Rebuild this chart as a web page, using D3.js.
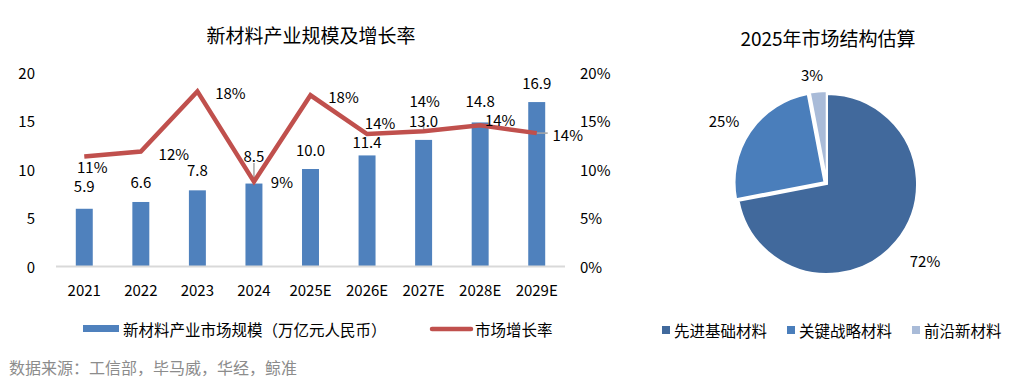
<!DOCTYPE html>
<html>
<head>
<meta charset="utf-8">
<script src="https://cdn.jsdelivr.net/npm/d3@7"></script>
<style>
  body { margin: 0; background: #fff; }
  svg text { font-family: "Noto Sans CJK SC", "Noto Sans", sans-serif; }
</style>
</head>
<body>
<svg id="chart" width="1030" height="388"></svg>
<script>
// data
const years = ["2021", "2022", "2023", "2024", "2025E", "2026E", "2027E", "2028E", "2029E"];
const marketSize = [5.9, 6.6, 7.8, 8.5, 10.0, 11.4, 13.0, 14.8, 16.9];
const growthRate = [0.113, 0.118, 0.180, 0.087, 0.176, 0.136, 0.139, 0.145, 0.137];
const leftTicks = [0, 5, 10, 15, 20];
const rightTicks = [0, 0.05, 0.10, 0.15, 0.20];

const segments = ["先进基础材料", "关键战略材料", "前沿新材料"];
const segmentShare = [0.72, 0.25, 0.03];

// label placement (layout only), [dx, dy] from each point
const rateLabelOffset = [[8, 10], [33, 2], [33, 1], [28, 0], [33, 1], [13, -12], [1, -31], [20, -6], [31, 1]];
const sizeLabelOffset = [-23, -20, -21, -28, -20, -14, -19, -22, -20];

const svg = d3.select("#chart");

// ---------- left chart: bars + line ----------
const x = d3.scaleBand().domain(years).range([56, 565]);
const yL = d3.scaleLinear().domain([0, 20]).range([266, 72]);
const yR = d3.scaleLinear().domain([0, 0.2]).range([266, 72]);
const barW = x.bandwidth() * 0.3;
const cx = d => x(d) + x.bandwidth() / 2;

svg.append("text")
  .attr("x", 311).attr("y", 34)
  .attr("text-anchor", "middle").attr("dominant-baseline", "central")
  .attr("font-size", "19px").attr("fill", "#000")
  .text("新材料产业规模及增长率");

// left axis labels
svg.selectAll(".lt").data(leftTicks).enter().append("text")
  .attr("x", 35).attr("y", d => yL(d))
  .attr("text-anchor", "end").attr("dominant-baseline", "central")
  .attr("font-size", "15px").attr("fill", "#000")
  .text(d => d);

// right axis labels
svg.selectAll(".rt").data(rightTicks).enter().append("text")
  .attr("x", 580).attr("y", d => yR(d))
  .attr("dominant-baseline", "central")
  .attr("font-size", "15px").attr("fill", "#000")
  .text(d3.format(".0%"));

// bars
svg.selectAll(".bar").data(years).enter().append("rect")
  .attr("x", d => cx(d) - barW / 2)
  .attr("y", (d, i) => yL(marketSize[i]))
  .attr("width", barW)
  .attr("height", (d, i) => yL(0) - yL(marketSize[i]))
  .attr("fill", "#4f81bd");

// baseline
svg.append("line")
  .attr("x1", 56).attr("x2", 565)
  .attr("y1", yL(0) + 0.5).attr("y2", yL(0) + 0.5)
  .attr("stroke", "#d9d9d9").attr("stroke-width", 2);

// x labels
svg.selectAll(".xl").data(years).enter().append("text")
  .attr("x", d => cx(d)).attr("y", 289)
  .attr("text-anchor", "middle").attr("dominant-baseline", "central")
  .attr("font-size", "15px").attr("fill", "#000")
  .text(d => d);

// leader lines (grey) for a few labels
svg.append("line")
  .attr("x1", cx("2024")).attr("x2", cx("2024"))
  .attr("y1", 163).attr("y2", yL(8.5))
  .attr("stroke", "#a6a6a6").attr("stroke-width", 1.5);
svg.append("line")
  .attr("x1", cx("2027E")).attr("x2", cx("2027E"))
  .attr("y1", 117).attr("y2", yR(growthRate[6]))
  .attr("stroke", "#a6a6a6").attr("stroke-width", 1.5);
svg.append("line")
  .attr("x1", cx("2029E")).attr("x2", cx("2029E") + 11)
  .attr("y1", yR(growthRate[8])).attr("y2", yR(growthRate[8]))
  .attr("stroke", "#a6a6a6").attr("stroke-width", 1.5);

// bar value labels
svg.selectAll(".bv").data(years).enter().append("text")
  .attr("x", d => cx(d))
  .attr("y", (d, i) => yL(marketSize[i]) + sizeLabelOffset[i])
  .attr("text-anchor", "middle").attr("dominant-baseline", "central")
  .attr("font-size", "15px").attr("fill", "#000")
  .text((d, i) => d3.format(".1f")(marketSize[i]));

// growth line
const line = d3.line()
  .x((d, i) => cx(years[i]))
  .y(d => yR(d));
svg.append("path")
  .datum(growthRate)
  .attr("d", line)
  .attr("fill", "none")
  .attr("stroke", "#c0504d")
  .attr("stroke-width", 4.5)
  .attr("stroke-linejoin", "miter");

// growth labels
svg.selectAll(".gv").data(growthRate).enter().append("text")
  .attr("x", (d, i) => cx(years[i]) + rateLabelOffset[i][0])
  .attr("y", (d, i) => yR(d) + rateLabelOffset[i][1])
  .attr("text-anchor", "middle").attr("dominant-baseline", "central")
  .attr("font-size", "15px").attr("fill", "#000")
  .text(d3.format(".0%"));

// legend
svg.append("rect").attr("x", 83).attr("y", 325).attr("width", 36).attr("height", 7).attr("fill", "#4f81bd");
svg.append("text").attr("x", 123).attr("y", 329)
  .attr("dominant-baseline", "central").attr("font-size", "15.5px").attr("fill", "#000")
  .text("新材料产业市场规模（万亿元人民币）");
svg.append("line").attr("x1", 432).attr("x2", 471).attr("y1", 329).attr("y2", 329)
  .attr("stroke", "#c0504d").attr("stroke-width", 4.5).attr("stroke-linecap", "round");
svg.append("text").attr("x", 475).attr("y", 329)
  .attr("dominant-baseline", "central").attr("font-size", "15.5px").attr("fill", "#000")
  .text("市场增长率");

// source
svg.append("text").attr("x", 9).attr("y", 367)
  .attr("dominant-baseline", "central").attr("font-size", "16px").attr("fill", "#8c8c8c")
  .text("数据来源：工信部，毕马威，华经，鲸准");

// ---------- right chart: pie ----------
const pieColor = d3.scaleOrdinal().domain(segments).range(["#41699c", "#4a7ebb", "#a9bbd8"]);
const pieCx = 827, pieCy = 184, r = 90;

svg.append("text")
  .attr("x", 828).attr("y", 37)
  .attr("text-anchor", "middle").attr("dominant-baseline", "central")
  .attr("font-size", "19px").attr("fill", "#000")
  .text("2025年市场结构估算");

const pie = d3.pie().sort(null).value(d => d.v);
const arcs = pie(segments.map((s, i) => ({name: s, v: segmentShare[i]})));
const arc = d3.arc().innerRadius(0).outerRadius(r);

const pg = svg.append("g").attr("transform", `translate(${pieCx},${pieCy})`);
pg.selectAll("path").data(arcs).enter().append("path")
  .attr("d", arc)
  .attr("transform", (d, i) => {
    if (i === 0) return null;
    const a = (d.startAngle + d.endAngle) / 2;
    return `translate(${Math.sin(a) * 3},${-Math.cos(a) * 3})`;
  })
  .attr("fill", d => pieColor(d.data.name))
  .attr("stroke", "#fff").attr("stroke-width", 2);

// pie labels
const pieLabelPos = [[98, 76], [-103, -64], [-15, -110]];
pg.selectAll(".pl").data(arcs).enter().append("text")
  .attr("x", (d, i) => pieLabelPos[i][0])
  .attr("y", (d, i) => pieLabelPos[i][1])
  .attr("text-anchor", "middle").attr("dominant-baseline", "central")
  .attr("font-size", "15px").attr("fill", "#000")
  .text(d => d3.format(".0%")(d.data.v));

// pie legend
const legX = [662, 787, 912];
const lg = svg.selectAll(".pleg").data(segments).enter().append("g")
  .attr("transform", (d, i) => `translate(${legX[i]},330)`);
lg.append("rect").attr("x", 0).attr("y", -4).attr("width", 8).attr("height", 8)
  .attr("fill", d => pieColor(d));
lg.append("text").attr("x", 12).attr("y", 0)
  .attr("dominant-baseline", "central").attr("font-size", "15.5px").attr("fill", "#000")
  .text(d => d);
</script>
</body>
</html>
